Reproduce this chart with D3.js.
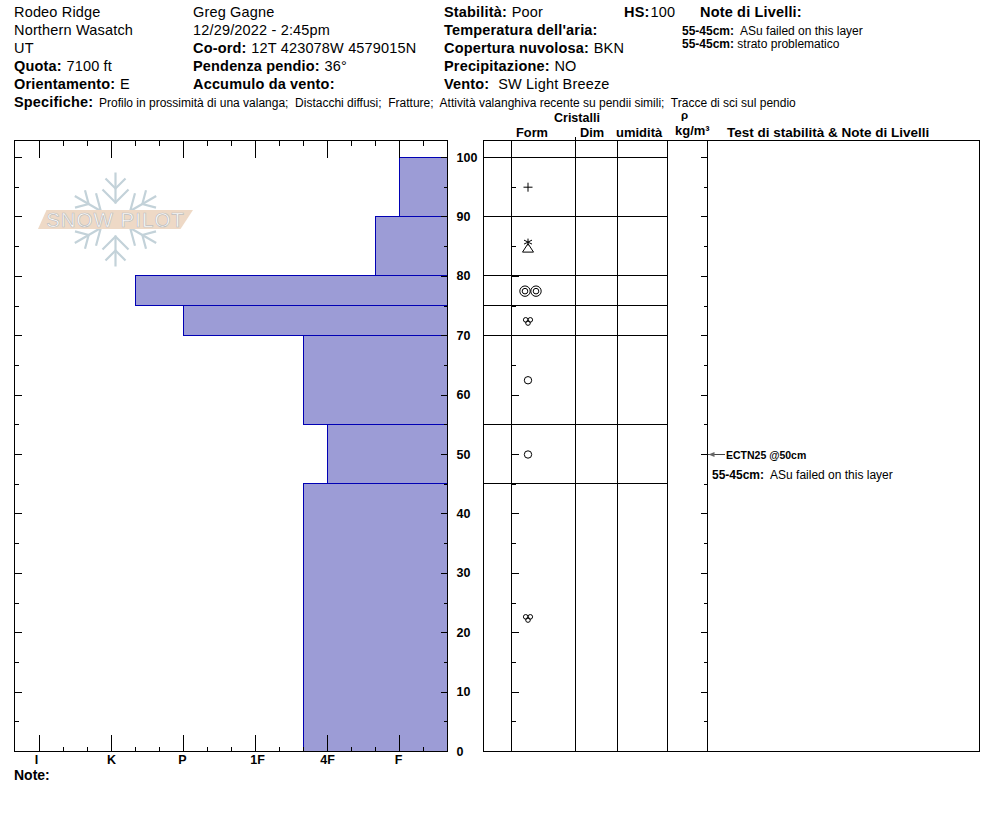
<!DOCTYPE html>
<html><head><meta charset="utf-8">
<script src="https://cdn.jsdelivr.net/npm/d3@7"></script>
<style>
html,body{margin:0;padding:0;background:#fff;overflow:hidden}
svg{display:block}
text{font-family:"Liberation Sans",Arial,sans-serif;fill:#000}
.axis path{display:none}
.axis line{stroke:#000;stroke-width:1;shape-rendering:crispEdges}
.axis text{font-family:"Liberation Sans",Arial,sans-serif;font-weight:bold;font-size:12.5px;fill:#000}
</style></head><body>
<div id="chart"></div>
<script>
// ---- data ----
const layerTops    = [100, 90, 80, 75, 70, 55, 45];
const layerBottoms = [90, 80, 75, 70, 55, 45, 0];
const layerHardness = [0, 1/3, 11/3, 3, 4/3, 1, 4/3]; // F, F+, K-, P, 4F+, 4F, 4F+
const hardnessLabels = ["I", "K", "P", "1F", "4F", "F"];
const hardnessValues = [5, 4, 3, 2, 1, 0];
const hardnessMinor = [14/3, 13/3, 11/3, 10/3, 8/3, 7/3, 5/3, 4/3, 2/3, 1/3, -1/3];
const depthMajor = [100, 90, 80, 70, 60, 50, 40, 30, 20, 10, 0];
const depthMinor = [95, 85, 75, 65, 55, 45, 35, 25, 15, 5];
const grainDepths = [95, 85, 77.5, 72.5, 62.5, 50, 22.5];
const grainTypes = ["plus", "starTriangle", "doubleCircle", "cluster", "circle", "circle", "cluster"];
const tableColumns = ["edge", "form", "dim", "wet", "rho", "notes", "end"];
const headerLeft = [
  [["", "Rodeo Ridge"]], [["", "Northern Wasatch"]], [["", "UT"]],
  [["Quota:", " 7100 ft"]], [["Orientamento:", " E"]]
];
const headerMid = [
  [["", "Greg Gagne"]], [["", "12/29/2022 - 2:45pm"]],
  [["Co-ord:", " 12T 423078W 4579015N"]],
  [["Pendenza pendio:", " 36°"]], [["Accumulo da vento:", ""]]
];
const headerRight = [
  [["Stabilità:", " Poor"]], [["Temperatura dell'aria:", ""]],
  [["Copertura nuvolosa:", " BKN"]], [["Precipitazione:", " NO"]],
  [["Vento:", "  SW Light Breeze"]]
];
const specLabel = "Specifiche:";
const specText = "Profilo in prossimità di una valanga;  Distacchi diffusi;  Fratture;  Attività valanghiva recente su pendii simili;  Tracce di sci sul pendio";
const layerNotes = [["55-45cm:", "ASu failed on this layer"], ["55-45cm:", "strato problematico"]];
const testDepths = [50];
const testLabels = ["ECTN25 @50cm"];

// ---- layout ----
const W = 994, H = 840;
const svg = d3.select("#chart").append("svg").attr("width", W).attr("height", H);
const plotL = 14.5, plotR = 447.5, plotT = 140.5, plotB = 751.5;
const y = d3.scaleLinear().domain([0, 100]).range([751, 157]);
const x = d3.scaleLinear().domain([16/3, -2/3]).range([15, 447]);
const colX = d3.scaleOrdinal().domain(tableColumns).range([483.5, 511.5, 575.5, 617.5, 667.5, 707.5, 979.5]);
const crisp = v => Math.floor(v) + 0.5;

// ---- logo ----
const logo = svg.append("g").attr("transform", "translate(115.5,219.5)");
[0, 60, 120, 180, 240, 300].forEach(a => {
  const arm = logo.append("g").attr("transform", `rotate(${a})`)
    .attr("fill", "none").attr("stroke", "#c3d2d9").attr("stroke-width", 2.2);
  arm.append("path").attr("d", "M0,-16V-47");
  arm.append("path").attr("d", "M-10,-41L0,-31L10,-41");
  arm.append("path").attr("d", "M-13,-30L0,-17L13,-30");
});
logo.append("path").attr("d", "M-69,-9.5H77.5L65,9.5H-77.5Z").attr("fill", "#eed9c6");
logo.append("text").attr("text-anchor", "middle").attr("x", 0).attr("y", 7.5)
  .attr("font-size", 20.5).attr("letter-spacing", 1)
  .style("fill", "#fff").style("stroke", "#bdbdbd").style("stroke-width", 0.7)
  .text("SNOW PILOT");

// ---- hardness bars ----
svg.append("g").selectAll("rect").data(layerTops).join("rect")
  .attr("x", (d, i) => crisp(x(layerHardness[i])))
  .attr("y", d => crisp(y(d)))
  .attr("width", (d, i) => plotR - crisp(x(layerHardness[i])))
  .attr("height", (d, i) => crisp(y(layerBottoms[i])) - crisp(y(d)))
  .attr("fill", "#9c9cd6").attr("stroke", "#0000b4").attr("stroke-width", 1)
  .attr("shape-rendering", "crispEdges");

// ---- plot frame and axes ----
svg.append("rect").attr("x", plotL).attr("y", plotT).attr("width", plotR - plotL).attr("height", plotB - plotT)
  .attr("fill", "none").attr("stroke", "#000").attr("shape-rendering", "crispEdges");

function hTicks(gen, values, size, yPos) {
  const g = svg.append("g").attr("class", "axis").attr("transform", `translate(0,${yPos})`)
    .call(gen(x).tickValues(values).tickSize(size).tickFormat(""));
  return g;
}
hTicks(d3.axisTop, hardnessValues, -17, plotT);
hTicks(d3.axisTop, hardnessMinor, -5, plotT);
hTicks(d3.axisBottom, hardnessValues, -17, plotB);
hTicks(d3.axisBottom, hardnessMinor, -5, plotB);

const labelNudge = [-3, 0, -1, 2, 0, -1];
const xLabels = svg.append("g").attr("class", "axis").attr("transform", `translate(0,${plotB})`)
  .call(d3.axisBottom(x).tickValues(hardnessValues).tickSize(0).tickPadding(4)
    .tickFormat((d, i) => hardnessLabels[i]));
xLabels.selectAll("text").attr("dx", (d, i) => labelNudge[i]);

function vTicks(gen, scaleX, values, size) {
  svg.append("g").attr("class", "axis").attr("transform", `translate(${scaleX},0)`)
    .call(gen(y).tickValues(values).tickSize(size).tickFormat(""));
}
[[plotL, d3.axisRight], [colX("form"), d3.axisRight]].forEach(([px, gen]) => {
  vTicks(gen, px, depthMajor.slice(0, -1), 7);
  vTicks(gen, px, depthMinor, 4);
});
[[plotR, d3.axisLeft], [colX("notes"), d3.axisLeft]].forEach(([px, gen]) => {
  vTicks(gen, px, depthMajor.slice(0, -1), 7);
  vTicks(gen, px, depthMinor, 4);
});
svg.append("g").attr("class", "axis").attr("transform", `translate(${plotR},0)`)
  .call(d3.axisRight(y).tickValues(depthMajor).tickSize(0).tickPadding(9));

// ---- table ----
const table = svg.append("g").attr("shape-rendering", "crispEdges").attr("stroke", "#000");
table.append("rect").attr("x", colX("edge")).attr("y", plotT)
  .attr("width", colX("end") - colX("edge")).attr("height", plotB - plotT).attr("fill", "none");
table.selectAll("line.col").data(tableColumns.slice(1, -1)).join("line").attr("class", "col")
  .attr("x1", d => colX(d)).attr("x2", d => colX(d)).attr("y1", plotT).attr("y2", plotB);
table.append("line").attr("x1", colX("dim")).attr("x2", colX("dim")).attr("y1", plotT - 4).attr("y2", plotT);
table.selectAll("line.layer").data(layerTops).join("line").attr("class", "layer")
  .attr("x1", colX("edge")).attr("x2", colX("rho"))
  .attr("y1", d => crisp(y(d))).attr("y2", d => crisp(y(d)));

// ---- grain symbols ----
const grainX = 528;
const s = svg.append("g").attr("fill", "none").attr("stroke", "#000").attr("stroke-width", 1);
function ring(g, cx, cy, r) { g.append("circle").attr("cx", cx).attr("cy", cy).attr("r", r); }
const glyphs = {
  plus: g => g.append("path").attr("d", "M-4.5,0H4.5M0,-4.5V4.5"),
  circle: g => ring(g, 0, 0, 3.7),
  doubleCircle: g => { [-3, 8].forEach(c => { ring(g, c, 0, 5.2); ring(g, c, 0, 2.8); }); },
  cluster: g => { ring(g, -2.3, -1, 2.3); ring(g, 2.3, -1, 2.3); ring(g, 0, 2.2, 2.3); },
  starTriangle: g => {
    g.append("path").attr("d", "M0,-8V-1M-4,-6.5L4,-2.5M4,-6.5L-4,-2.5");
    g.append("path").attr("d", "M0,-3L5.5,5.5H-5.5Z");
  }
};
s.selectAll("g").data(grainDepths).join("g")
  .attr("transform", d => `translate(${grainX},${y(d) + 0.5})`)
  .each(function(d, i) { glyphs[grainTypes[i]](d3.select(this)); });

// ---- text ----
function richLine(px, py, parts, size, gap) {
  const t = svg.append("text").attr("x", px).attr("y", py).attr("font-size", size).attr("xml:space", "preserve");
  parts.forEach(([b, v]) => {
    if (b) t.append("tspan").attr("font-weight", "bold").text(b);
    if (v) t.append("tspan").attr("dx", b ? gap : 0).text(v);
  });
  return t;
}
const rows = [17, 35, 52.5, 71, 89];
function headerBlock(lines, px) {
  lines.forEach((l, i) => richLine(px, rows[i], l, 14.5, 0.5).attr("letter-spacing", 0.17));
}
headerBlock(headerLeft, 14);
headerBlock(headerMid, 193);
headerBlock(headerRight, 444);
richLine(624, 17, [["HS:", "100"]], 14.5, 1).attr("letter-spacing", 0.17);
richLine(700, 17, [["Note di Livelli:", ""]], 14.5, 0).attr("letter-spacing", 0.17);
layerNotes.forEach((n, i) => {
  richLine(682, 34.5 + i * 13.5, [[n[0], (i === 0 ? "  " : " ") + n[1]]], 12, 0);
});
richLine(14, 106.5, [[specLabel, ""]], 14.5, 0).attr("letter-spacing", 0.17);
svg.append("text").attr("x", 99).attr("y", 106.5).attr("font-size", 12).attr("xml:space", "preserve").text(specText);

const heads = [["Cristalli", 554, 121.5, 12.5], ["Form", 516, 137, 12.8], ["Dim", 580, 137, 12.8], ["umidità", 616, 137, 13],
  ["ρ", 681, 119, 11.5], ["kg/m³", 675, 135, 13], ["Test di stabilità & Note di Livelli", 727, 137, 13.5]];
heads.forEach(h => svg.append("text").attr("x", h[1]).attr("y", h[2]).attr("font-size", h[3]).attr("font-weight", "bold").text(h[0]));
svg.append("text").attr("x", 14).attr("y", 780).attr("font-size", 14).attr("font-weight", "bold").text("Note:");

// ---- stability test marker ----
testDepths.forEach((d, i) => {
  const py = y(d) + 0.5;
  svg.append("path").attr("d", `M708,${py}h17`).attr("stroke", "#444").attr("fill", "none");
  svg.append("path").attr("d", `M708.5,${py}l6,-2.5v5Z`).attr("fill", "#666");
  svg.append("text").attr("x", 726).attr("y", py + 4.5).attr("font-size", 10.5).attr("font-weight", "bold").text(testLabels[i]);
});
richLine(712, 479, [[layerNotes[0][0], "  " + layerNotes[0][1]]], 12, 0);
</script>
</body></html>
